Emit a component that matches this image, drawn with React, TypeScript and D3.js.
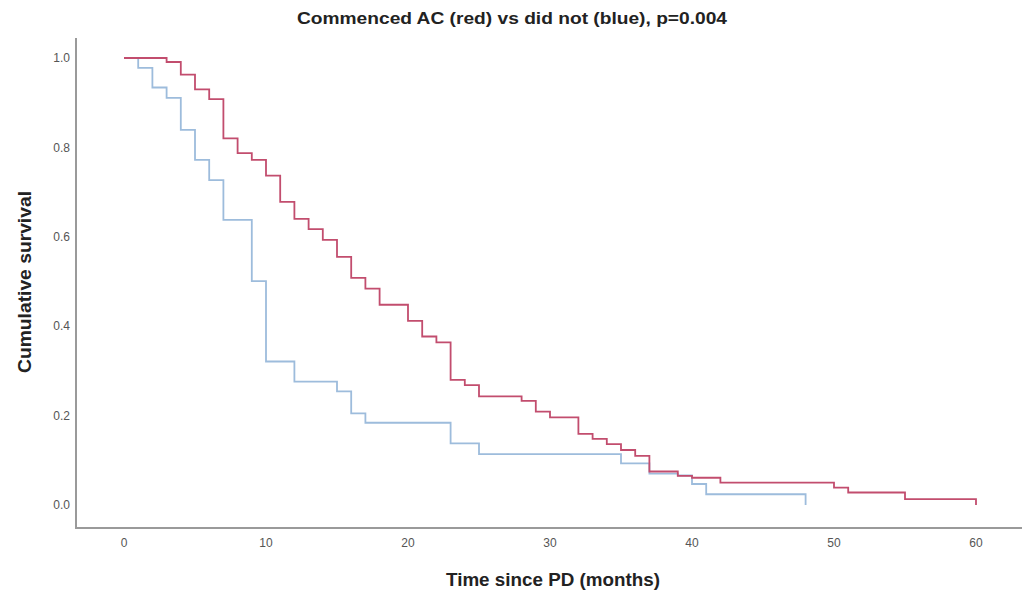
import React from "react";
import * as d3 from "d3";

const redTimes = [0, 3, 4, 5, 6, 7, 8, 9, 10, 11, 12, 13, 14, 15, 16, 17, 18, 20, 21, 22, 23, 24, 25, 28, 29, 30, 32, 33, 34, 35, 36, 37, 39, 40, 42, 50, 51, 55, 60];
const redSurv = [1.0, 0.991, 0.963, 0.93, 0.908, 0.82, 0.787, 0.772, 0.737, 0.678, 0.64, 0.617, 0.593, 0.555, 0.508, 0.484, 0.448, 0.412, 0.377, 0.364, 0.28, 0.268, 0.243, 0.233, 0.209, 0.196, 0.159, 0.148, 0.136, 0.123, 0.11, 0.075, 0.065, 0.061, 0.05, 0.039, 0.028, 0.013, 0.0];

const blueTimes = [0, 1, 2, 3, 4, 5, 6, 7, 9, 10, 12, 15, 16, 17, 23, 25, 35, 37, 39, 40, 41, 48];
const blueSurv = [1.0, 0.978, 0.934, 0.911, 0.839, 0.772, 0.727, 0.638, 0.501, 0.321, 0.276, 0.254, 0.205, 0.184, 0.138, 0.114, 0.093, 0.07, 0.066, 0.047, 0.024, 0.0];

const xTicks = [0, 10, 20, 30, 40, 50, 60];
const yTicks = [0, 0.2, 0.4, 0.6, 0.8, 1.0];

const title = "Commenced AC (red) vs did not (blue), p=0.004";
const xTitle = "Time since PD (months)";
const yTitle = "Cumulative survival";

export default function App() {
  const x = d3.scaleLinear().domain([0, 60]).range([124, 976]);
  const y = d3.scaleLinear().domain([0, 1]).range([505, 58]);
  const line = d3
    .line<[number, number]>()
    .x((d) => x(d[0]))
    .y((d) => y(d[1]))
    .curve(d3.curveStepAfter);
  const redPts = redTimes.map((t, i) => [t, redSurv[i]] as [number, number]);
  const bluePts = blueTimes.map((t, i) => [t, blueSurv[i]] as [number, number]);
  const labelFont = "'Liberation Sans Narrow', 'Liberation Sans', Arial, sans-serif";
  const boldFont = "'Liberation Sans', Arial, sans-serif";

  return (
    <svg
      width={1022}
      height={594}
      style={{ position: "absolute", left: 0, top: 0, background: "#fff" }}
    >
      <rect x={0} y={0} width={1022} height={594} fill="#fff" />
      <text
        x={512}
        y={24}
        textAnchor="middle"
        fontFamily={boldFont}
        fontWeight="bold"
        fontSize={16}
        textLength={430}
        lengthAdjust="spacingAndGlyphs"
        fill="#222"
      >
        {title}
      </text>
      {/* axes */}
      <line x1={76} x2={76} y1={38} y2={528} stroke="#9a9a9a" strokeWidth={2} />
      <line x1={75} x2={1022} y1={528} y2={528} stroke="#9a9a9a" strokeWidth={2} />
      {yTicks.map((t) => (
        <text
          key={"y" + t}
          x={70}
          y={y(t)}
          dy="0.35em"
          textAnchor="end"
          fontFamily={labelFont}
          fontSize={12}
          fill="#555"
        >
          {t.toFixed(1)}
        </text>
      ))}
      {xTicks.map((t) => (
        <text
          key={"x" + t}
          x={x(t)}
          y={543}
          dy="0.35em"
          textAnchor="middle"
          fontFamily={labelFont}
          fontSize={12}
          fill="#555"
        >
          {t}
        </text>
      ))}
      <text
        x={553}
        y={586}
        textAnchor="middle"
        fontFamily={boldFont}
        fontWeight="bold"
        fontSize={18}
        textLength={214}
        lengthAdjust="spacingAndGlyphs"
        fill="#222"
      >
        {xTitle}
      </text>
      <text
        transform={`translate(31, 282) rotate(-90)`}
        textAnchor="middle"
        fontFamily={boldFont}
        fontWeight="bold"
        fontSize={18}
        textLength={182}
        lengthAdjust="spacingAndGlyphs"
        fill="#222"
      >
        {yTitle}
      </text>
      <path d={line(bluePts) || ""} fill="none" stroke="#9dbcdc" strokeWidth={1.8} />
      <path d={line(redPts) || ""} fill="none" stroke="#c24d6e" strokeWidth={1.8} />
    </svg>
  );
}
